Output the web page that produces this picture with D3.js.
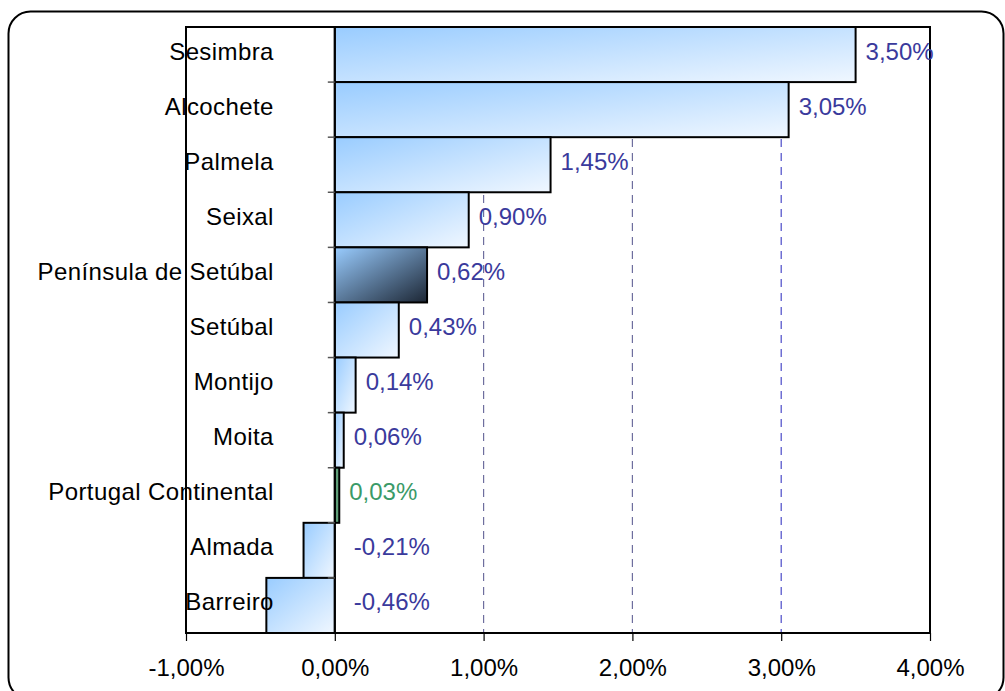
<!DOCTYPE html>
<html>
<head>
<meta charset="utf-8">
<script src="https://cdn.jsdelivr.net/npm/d3@7"></script>
<style>
  body { margin: 0; background: #fff; }
  text { font-family: "Liberation Sans", Arial, sans-serif; }
</style>
</head>
<body>
<div id="svganchor"></div>
<script>
let width = 1005, height = 691;

let margin = ({top: 27, right: 75, bottom: 58, left: 186});

// data
let categories = ["Sesimbra", "Alcochete", "Palmela", "Seixal", "Península de Setúbal",
    "Setúbal", "Montijo", "Moita", "Portugal Continental", "Almada", "Barreiro"];
let values = [3.50, 3.05, 1.45, 0.90, 0.62, 0.43, 0.14, 0.06, 0.03, -0.21, -0.46];
let xTicks = [-1, 0, 1, 2, 3, 4];

let dataSet = categories.map(function(c, i) { return {name: c, value: values[i]}; });

// portuguese style: comma decimal, plain hyphen for minus
let fmt = function(v) {
    return (v < 0 ? "-" : "") + Math.abs(v).toFixed(2).replace(".", ",") + "%";
};

let xScale = d3.scaleLinear()
    .domain([-1, 4])
    .range([margin.left, width - margin.right]);

let yScale = d3.scaleBand()
    .domain(categories)
    .range([margin.top, height - margin.bottom])
    .padding(0);

let svg = d3.select("#svganchor")
    .append("svg")
    .attr("width", width)
    .attr("height", height);

// outer frame
svg.append("rect")
    .attr("x", 8.5)
    .attr("y", 11.5)
    .attr("width", 995)
    .attr("height", 688)
    .attr("rx", 22)
    .attr("ry", 22)
    .attr("fill", "#fff")
    .attr("stroke", "#000")
    .attr("stroke-width", 2);

let defs = svg.append("defs");

function addGradient(id, c1, c2) {
    let g = defs.append("linearGradient")
        .attr("id", id)
        .attr("x1", "0%").attr("y1", "0%")
        .attr("x2", "100%").attr("y2", "100%");
    g.append("stop").attr("offset", "0%").attr("stop-color", c1);
    g.append("stop").attr("offset", "100%").attr("stop-color", c2);
}
addGradient("blueGrad", "#99ccff", "#f0f7ff");
addGradient("darkGrad", "#99ccff", "#1c2634");

// gridlines
let grid = svg.append("g");
grid.selectAll("line")
    .data([1, 2, 3])
    .enter()
    .append("line")
    .attr("x1", function(d) { return xScale(d); })
    .attr("x2", function(d) { return xScale(d); })
    .attr("y1", margin.top)
    .attr("y2", height - margin.bottom)
    .attr("stroke", function(d) { return d === 3 ? "#4c4cc8" : "#6e6e9e"; })
    .attr("stroke-width", 1.2)
    .attr("stroke-dasharray", "8,6");

// bars
let bars = svg.selectAll(".myBars")
    .data(dataSet)
    .enter()
    .append("rect")
    .attr("class", "myBars")
    .attr("x", function(d) { return xScale(Math.min(0, d.value)); })
    .attr("y", function(d) { return yScale(d.name); })
    .attr("width", function(d) { return Math.abs(xScale(d.value) - xScale(0)); })
    .attr("height", yScale.bandwidth())
    .attr("fill", function(d) {
        if (d.name === "Península de Setúbal") return "url(#darkGrad)";
        if (d.name === "Portugal Continental") return "#5f9e78";
        return "url(#blueGrad)";
    })
    .attr("stroke", "#000")
    .attr("stroke-width", 2);

// plot border
svg.append("rect")
    .attr("x", margin.left)
    .attr("y", margin.top)
    .attr("width", width - margin.right - margin.left)
    .attr("height", height - margin.bottom - margin.top)
    .attr("fill", "none")
    .attr("stroke", "#000")
    .attr("stroke-width", 2);

// x axis
let xAxis = d3.axisBottom(xScale)
    .tickValues(xTicks)
    .tickSizeInner(8)
    .tickSizeOuter(0)
    .tickPadding(18)
    .tickFormat(fmt);

let gX = svg.append("g")
    .attr("class", "x axis")
    .attr("transform", "translate(0," + (height - margin.bottom) + ")")
    .call(xAxis);
gX.select(".domain").remove();
gX.selectAll("text")
    .attr("font-size", 24)
    .attr("fill", "#000")
    .attr("font-family", "Liberation Sans, Arial, sans-serif");
gX.selectAll(".tick line").attr("stroke", "#000").attr("stroke-width", 1.2);

// category axis at zero
svg.append("line")
    .attr("x1", xScale(0))
    .attr("x2", xScale(0))
    .attr("y1", margin.top)
    .attr("y2", height - margin.bottom)
    .attr("stroke", "#000")
    .attr("stroke-width", 2);

svg.append("g")
    .selectAll("line")
    .data(categories.slice(1))
    .enter()
    .append("line")
    .attr("x1", xScale(0) - 7)
    .attr("x2", xScale(0))
    .attr("y1", function(d) { return yScale(d); })
    .attr("y2", function(d) { return yScale(d); })
    .attr("stroke", "#555")
    .attr("stroke-width", 1.5);

// category labels
svg.append("g")
    .selectAll("text")
    .data(categories)
    .enter()
    .append("text")
    .attr("x", xScale(0) - 61)
    .attr("y", function(d) { return yScale(d) + yScale.bandwidth() / 2 + 5; })
    .attr("text-anchor", "end")
    .attr("font-size", 24)
    .attr("letter-spacing", 0.4)
    .attr("fill", "#000")
    .text(function(d) { return d; });

// value labels
svg.append("g")
    .selectAll("text")
    .data(dataSet)
    .enter()
    .append("text")
    .attr("x", function(d) {
        return d.value >= 0 ? xScale(d.value) + 10 : xScale(0) + 19;
    })
    .attr("y", function(d) { return yScale(d.name) + yScale.bandwidth() / 2 + 5; })
    .attr("font-size", 24)
    .attr("fill", function(d) {
        return d.name === "Portugal Continental" ? "#3a9a68" : "#3a3a9c";
    })
    .text(function(d) { return fmt(d.value); });
</script>
</body>
</html>
